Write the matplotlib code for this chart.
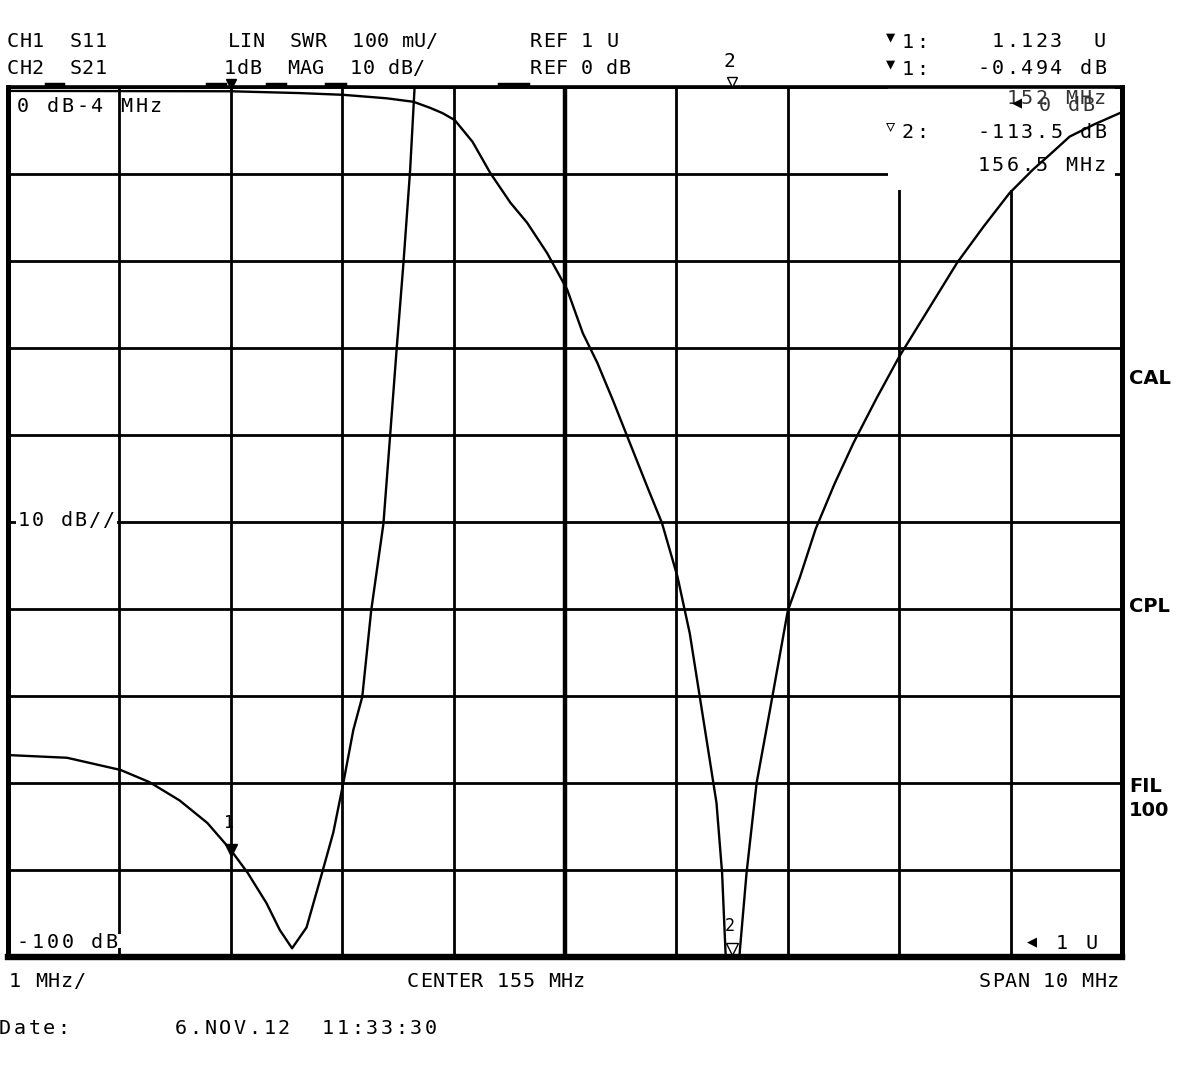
import numpy as np
import matplotlib
matplotlib.use("Agg")
import matplotlib.pyplot as plt
import matplotlib.transforms as mtransforms
from matplotlib.patches import Rectangle
from matplotlib.lines import Line2D

# ---------------- data ----------------
freq_start = 150.0          # MHz
freq_stop = 160.0           # MHz
freq_ticks = np.linspace(freq_start, freq_stop, 11)

# CH2 : S21 log magnitude (dB)
s21_freq = [150.00, 151.00, 152.00, 152.62, 153.01, 153.40, 153.64, 153.79,
            153.90, 154.01, 154.17, 154.33, 154.51, 154.66, 154.84, 155.02,
            155.16, 155.29, 155.43, 155.56, 155.74, 155.87, 156.01, 156.12,
            156.21, 156.30, 156.36, 156.41, 156.44, 156.50, 156.57, 156.63,
            156.72, 156.84, 157.00, 157.11, 157.25, 157.42, 157.59, 157.80,
            158.00, 158.26, 158.52, 158.76, 158.99, 159.20, 159.35, 159.53,
            159.75, 159.98]
s21_db = [-0.45, -0.47, -0.49, -0.70, -0.90, -1.30, -1.70, -2.40,
          -3.0, -3.8, -6.3, -9.9, -13.3, -15.6, -19.1, -23.3,
          -28.3, -31.7, -36.0, -40.2, -46.0, -50.1, -56.3, -62.8,
          -70.1, -77.4, -82.3, -90.3, -99.2, -113.5, -99.2, -90.3,
          -80.0, -71.6, -60.2, -56.3, -50.8, -45.6, -40.9, -35.7,
          -31.0, -25.6, -20.2, -16.0, -12.2, -9.5, -7.8, -5.7,
          -4.3, -3.0]

# CH1 : S11 SWR (linear units)
s11_freq = [150.02, 150.53, 151.01, 151.27, 151.54, 151.79, 152.00, 152.15,
            152.32, 152.44, 152.55, 152.68, 152.82, 152.92, 153.01, 153.10,
            153.18, 153.26, 153.37, 153.43, 153.49, 153.55, 153.61, 153.65,
            153.70]
s11_swr = [1.232, 1.229, 1.215, 1.201, 1.180, 1.154, 1.123, 1.097,
           1.062, 1.031, 1.010, 1.034, 1.097, 1.143, 1.200, 1.261,
           1.299, 1.398, 1.498, 1.599, 1.701, 1.798, 1.905, 2.000,
           2.100]

# markers
marker_freq = [152.0, 156.5]
marker_swr = [1.123, None]
marker_s21 = [-0.494, -113.5]

s21_ref_db, s21_scale_db = 0, 10
s11_ref_u, s11_scale_mu = 1, 100

# ---------------- figure ----------------
W, H = 1181, 1090
plt.rcParams['font.family'] = ['DejaVu Sans Mono', 'DejaVu Sans']
fig = plt.figure(figsize=(W / 100, H / 100), dpi=100)
fig.patch.set_facecolor('white')


def fx(x):
    return x / W


def fy(y):
    return 1 - y / H


L, R, T, B = 8, 1122, 87, 957
ax = fig.add_axes([fx(L), fy(B), (R - L) / W, (B - T) / H])
ax.set_xlim(freq_start, freq_stop)
ax.set_ylim(s21_ref_db - 10 * s21_scale_db, s21_ref_db)
ax.set_xticks(freq_ticks)
ax.set_yticks(np.arange(-100, 1, 10))
ax.tick_params(length=0, labelbottom=False, labelleft=False)
ax.set_axisbelow(True)
ax.grid(True, color='black', lw=2.0)
ax.axvline((freq_start + freq_stop) / 2, color='black', lw=3.2, zorder=0.6)
for side, w in (('top', 2.6), ('left', 3.6), ('bottom', 4.6), ('right', 3.6)):
    ax.spines[side].set_linewidth(w)
    ax.spines[side].set_color('black')

# blank area under the marker read-out
ax.add_patch(Rectangle((0.790, 0.882), 0.2035, 0.118, transform=ax.transAxes,
                       facecolor='white', edgecolor='none', zorder=0.9))

ax.plot(s21_freq, s21_db, color='black', lw=1.7, zorder=2)

ax2 = ax.twinx()
ax2.set_ylim(s11_ref_u, s11_ref_u + 10 * s11_scale_mu / 1000)
ax2.set_yticks([])
ax2.tick_params(length=0, labelright=False)
for sp in ax2.spines.values():
    sp.set_visible(False)
ax2.plot(s11_freq, s11_swr, color='black', lw=1.7, zorder=2)

# marker 1 on SWR trace
ax2.plot([marker_freq[0]], [marker_swr[0]], marker='v', ms=8, color='black',
         linestyle='none', zorder=3)
ax2.annotate('1', (marker_freq[0], marker_swr[0]), xytext=(-2, 13),
             textcoords='offset points', ha='center', va='bottom', fontsize=12)

# marker 2 on S21 (below screen bottom -> drawn at bottom edge)
trb = mtransforms.blended_transform_factory(ax.transData, ax.transAxes)
ax.plot([marker_freq[1]], [0.009], marker='v', ms=8, mfc='white', mec='black',
        mew=1.0, transform=trb, linestyle='none', zorder=3, clip_on=False)
ax.text(marker_freq[1] - 0.02, 0.025, '2', transform=trb, ha='center',
        va='bottom', fontsize=12, zorder=3)

# off-screen / top-edge markers
ax.plot([marker_freq[0]], [1.004], marker='v', ms=7, color='black',
        transform=trb, linestyle='none', zorder=4, clip_on=False)
ax.plot([marker_freq[1]], [1.006], marker='v', ms=7, mfc='white', mec='black',
        mew=1.0, transform=trb, linestyle='none', zorder=4, clip_on=False)
ax.text(marker_freq[1] - 0.02, 1.018, '2', transform=trb, ha='center',
        va='bottom', fontsize=14)

# softkey bars above the graticule
for a, b in [(47, 63), (208, 225), (268, 285), (327, 345), (500, 528)]:
    fig.add_artist(Line2D([fx(a), fx(b)], [fy(85), fy(85)], lw=3.2,
                          color='black', transform=fig.transFigure))

FS = 14.5
GW = 10.0   # approx glyph width in px


def st(x, y, s, pitch, ha='left', fs=FS, color='black', bg=None, **kw):
    """Draw string char by char on a fixed pitch; y = vertical centre (px)."""
    n = len(s)
    x0 = x if ha == 'left' else x - (n - 1) * pitch - GW
    if bg is not None:
        bx0, bx1, bh = bg
        fig.add_artist(Rectangle((fx(bx0), fy(y + bh / 2)), (bx1 - bx0) / W,
                                 bh / H, transform=fig.transFigure,
                                 facecolor='white', edgecolor='none',
                                 zorder=2.5))
    for i, c in enumerate(s):
        if c == ' ':
            continue
        fig.text(fx(x0 + i * pitch + GW / 2), fy(y + 7), c, ha='center',
                 va='baseline', fontsize=fs, color=color, zorder=3, **kw)


# header
st(8, 40, 'CH1  S11', 12.5)
st(229, 40, 'LIN  SWR  100 mU/', 12.4)
st(531, 40, 'REF 1 U', 12.7)
st(8, 67, 'CH2  S21', 12.5)
st(225, 67, '1dB  MAG  10 dB/', 12.6)
st(531, 67, 'REF 0 dB', 12.7)

# marker readout
RP = 14.6
fig.text(fx(886), fy(37), '\u25bc', fontsize=11, ha='left', va='center')
st(903, 41, '1:', RP)
st(1105, 40, f'{marker_swr[0]:.3f}  U', RP, ha='right')
fig.text(fx(886), fy(64), '\u25bc', fontsize=11, ha='left', va='center')
st(903, 68, '1:', RP)
st(1105, 67, f'{marker_s21[0]:.3f} dB', RP, ha='right')
st(1105, 97, f'{marker_freq[0]:.0f} MHz', RP, ha='right', color='#333333')
fig.text(fx(1012), fy(103), '\u25c0', ha='left', va='center', fontsize=12,
         color='black')
st(1040, 104, '0 dB', RP, color='#333333')
fig.text(fx(886), fy(126), '\u25bd', fontsize=11, ha='left', va='center')
st(903, 131, '2:', RP)
st(1105, 131, f'{marker_s21[1]:.1f} dB', RP, ha='right')
st(1105, 164, f'{marker_freq[1]:.1f} MHz', RP, ha='right')

# in-graticule labels
GP = 14.8
st(18, 105, '0 dB-4 MHz', GP)
st(19, 519, '10 dB//', 14.2, bg=(16, 117, 20))
st(18, 941, '-100 dB', GP, bg=(15, 126, 14))
fig.text(fx(1027), fy(942), '\u25c0', ha='left', va='center', fontsize=12)
st(1057, 942, '1 U', 15.0)

# right-side annotations
for y, s in [(378, 'CAL'), (607, 'CPL'), (787, 'FIL'), (810, '100')]:
    fig.text(fx(1129), fy(y), s, ha='left', va='center', fontsize=14,
             fontweight='bold', family=['DejaVu Sans', 'DejaVu Sans Mono'])

# footer
st(10, 980, '1 MHz/', 13.0)
st(408, 980, f'CENTER {(freq_start + freq_stop) / 2:.0f} MHz', 12.8)
st(980, 980, f'SPAN {freq_stop - freq_start:.0f} MHz', 12.8)
st(0, 1027, 'Date:', 14.7)
st(176, 1027, '6.NOV.12  11:33:30', 14.7)

fig.savefig('out.png', dpi=100, facecolor='white')
